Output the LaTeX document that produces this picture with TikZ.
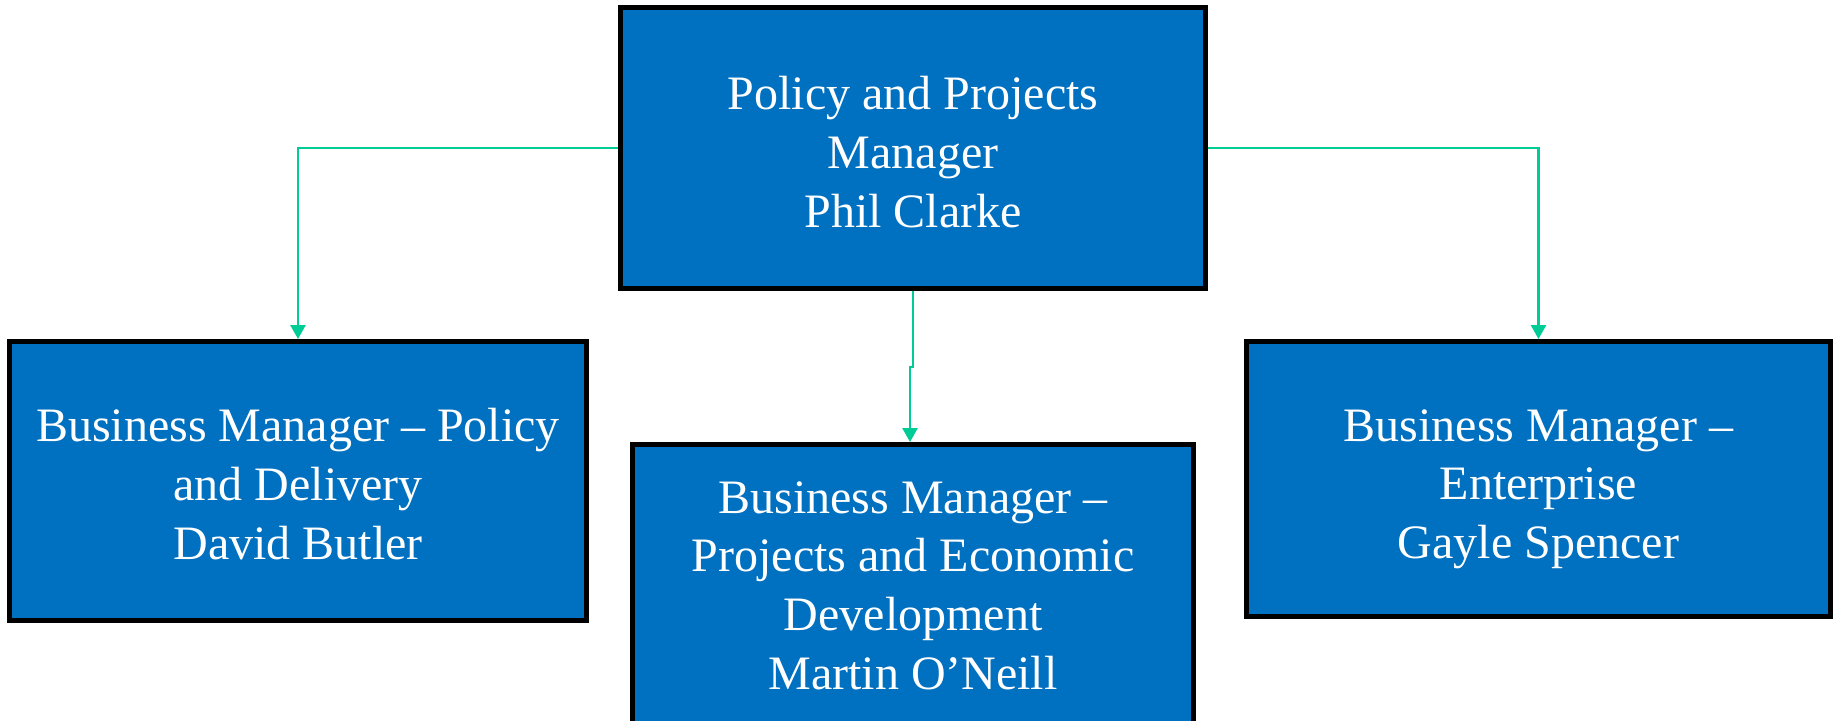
\documentclass[tikz,border=0pt]{standalone}
\usepackage{fontspec}
\setmainfont{Liberation Serif}
\usetikzlibrary{arrows.meta}
\definecolor{boxblue}{RGB}{0,112,192}
\definecolor{conngreen}{RGB}{0,204,150}
\tikzset{
  orgbox/.style={draw=black, fill=boxblue, line width=2.5pt, rectangle, inner sep=0pt},
  orgtext/.style={text=white, align=center, inner sep=0pt,
    font=\fontsize{24}{29.3}\selectfont},
  conn/.style={draw=conngreen, line width=1.3pt,
    -{Triangle[width=7.5pt,length=7pt]}}
}
\begin{document}
\begin{tikzpicture}[x=0.5pt,y=-0.5pt]
\clip (0,0) rectangle (1839,720);
\fill[white] (0,0) rectangle (1839,720);
\node[orgbox, minimum width=585*0.5pt, minimum height=281*0.5pt] (top) at (913,148) {};
\node[orgtext] (toptext) at ([yshift=-2pt]top.center)
  {Policy and Projects\\Manager\\Phil Clarke};
\node[orgbox, minimum width=577*0.5pt, minimum height=279*0.5pt] (left) at (298,481) {};
\node[orgtext] (lefttext) at ([yshift=-1.5pt]left.center)
  {Business Manager -- Policy\\and Delivery\\David Butler};
\node[orgbox, minimum width=584*0.5pt, minimum height=275*0.5pt] (right) at (1538.5,479) {};
\node[orgtext] (righttext) at ([yshift=-5pt]right.center)
  {Business Manager --\\Enterprise\\Gayle Spencer};
\node[orgbox, minimum width=561*0.5pt, minimum height=290*0.5pt] (mid) at (913,589.5) {};
\node[orgtext] (midtext) at ([yshift=2pt]mid.center)
  {Business Manager --\\Projects and Economic\\Development\\Martin O’Neill};
\coordinate (jog) at (910,367);
\draw[conn] (top.west) -| (left.north);
\draw[conn] (top.east) -| (right.north);
\draw[conn] (top.south) |- (jog) -- (jog |- mid.north);
\end{tikzpicture}
\end{document}
